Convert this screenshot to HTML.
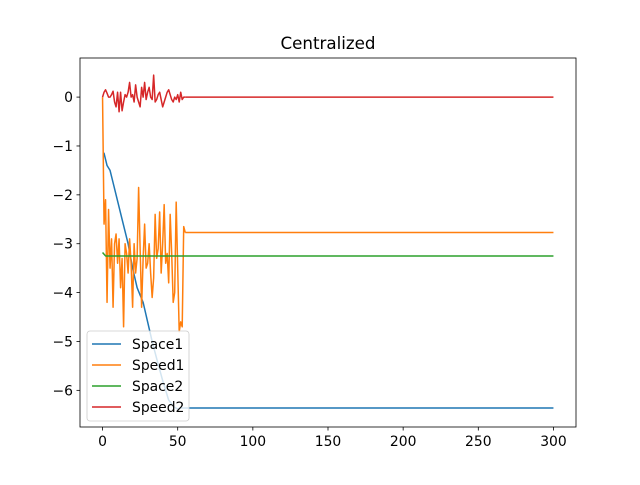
<!DOCTYPE html>
<html><head><meta charset="utf-8"><style>
body{margin:0;background:#fff;}
svg{font-family:"DejaVu Sans","Liberation Sans",sans-serif;}
</style></head><body>
<svg id="chart" width="640" height="480" viewBox="0 0 640 480"></svg>
<script>
const xTicks=[0,50,100,150,200,250,300];
const yTicks=[0,-1,-2,-3,-4,-5,-6];
const space1X=[0,1,3,5,7,9,13,17,20,23,25,27,30,33,36,40,44,48,50,52,300];
const space1Y=[-1.15,-1.15,-1.4,-1.5,-1.75,-2.0,-2.5,-3.0,-3.5,-3.9,-4.05,-4.2,-4.6,-5.0,-5.35,-5.8,-6.2,-6.35,-6.38,-6.36,-6.36];
const space2X=[0,2,300];
const space2Y=[-3.18,-3.25,-3.25];
const speed1Y=[0,-2.6,-2.1,-4.2,-2.3,-3.5,-2.9,-4.3,-3.0,-2.8,-3.4,-2.9,-3.9,-3.3,-4.7,-3.0,-3.2,-3.6,-2.9,-3.4,-4.3,-3.0,-3.6,-3.3,-1.85,-3.1,-4.3,-3.3,-2.6,-3.5,-3.4,-3.0,-3.6,-4.1,-3.7,-2.4,-3.3,-3.1,-2.35,-3.6,-3.0,-2.2,-3.4,-3.2,-3.8,-2.4,-3.2,-4.2,-4.0,-2.15,-3.5,-4.8,-4.6,-4.7,-2.65,-2.77];
const speed1TailX=[55,300];
const speed1TailY=[-2.77,-2.77];
const speed2Y=[0,0.1,0.15,0.08,0.0,0.0,0.05,0.12,-0.1,-0.2,0.1,-0.3,0.1,-0.28,-0.1,0.05,0.0,0.1,0.3,0.0,0.05,-0.1,0.25,0.0,-0.1,-0.2,0.2,0.0,0.3,-0.05,0.1,0.2,0.0,-0.05,0.45,-0.1,-0.05,0.05,0.1,-0.05,-0.2,-0.1,0.0,0.1,0.15,0.05,-0.05,-0.1,0.0,-0.05,0.05,-0.1,0.1,-0.05,0.0,0.0];
const speed2TailX=[55,300];
const speed2TailY=[0,0];

const L=80,R=576,T=58,B=427;
const xMin=-15,xMax=315,yMin=-6.75,yMax=0.8;
const sx=v=>L+(v-xMin)/(xMax-xMin)*(R-L);
const sy=v=>T+(yMax-v)/(yMax-yMin)*(B-T);
const svg=document.getElementById('chart');
const NS='http://www.w3.org/2000/svg';
function mk(tag,attrs,parent){const e=document.createElementNS(NS,tag);for(const k in attrs)e.setAttribute(k,attrs[k]);(parent||svg).appendChild(e);return e;}

function line(xs,ys,color,name){
  const pts=xs.map((x,i)=>sx(x).toFixed(2)+','+sy(ys[i]).toFixed(2)).join(' ');
  const p=mk('polyline',{points:pts,fill:'none',stroke:color,'stroke-width':1.5,'stroke-linejoin':'round'});
  
  
}
const idx=speed1Y.map((_,i)=>i);
line(space1X,space1Y,'#1f77b4','space1-line');
line(idx,speed1Y,'#ff7f0e','speed1-line');
line(speed1TailX,speed1TailY,'#ff7f0e','speed1-line-tail');
line(space2X,space2Y,'#2ca02c','space2-line');
line(idx.slice(0,speed2Y.length),speed2Y,'#d62728','speed2-line');
line(speed2TailX,speed2TailY,'#d62728','speed2-line-tail');

const frame=mk('rect',{x:L,y:T,width:R-L,height:B-T,fill:'none',stroke:'#000','stroke-width':0.8});



xTicks.forEach(v=>{
  const x=sx(v);
  mk('line',{x1:x,x2:x,y1:B,y2:B+3.5,stroke:'#000','stroke-width':0.8});
  const t=mk('text',{x:x,y:B+19,'text-anchor':'middle','font-size':13.9,fill:'#000'});
  t.textContent=v;
  
  
});
yTicks.forEach(v=>{
  const y=sy(v);
  mk('line',{x1:L-3.5,x2:L,y1:y,y2:y,stroke:'#000','stroke-width':0.8});
  const t=mk('text',{x:L-7,y:y+5,'text-anchor':'end','font-size':13.9,fill:'#000'});
  t.textContent=v<0?'\u2212'+Math.abs(v):v;
  
  
});
const title=mk('text',{x:(L+R)/2,y:49,'text-anchor':'middle','font-size':16.7,fill:'#000'});
title.textContent='Centralized';



const lg=mk('g',{});


mk('rect',{x:87,y:331,width:102,height:90,rx:3,fill:'#fff','fill-opacity':0.8,stroke:'#ccc','stroke-width':0.8},lg);
const names=['Space1','Speed1','Space2','Speed2'];
const colors=['#1f77b4','#ff7f0e','#2ca02c','#d62728'];
names.forEach((n,i)=>{
  const y=344+i*21;
  mk('line',{x1:92,x2:121,y1:y,y2:y,stroke:colors[i],'stroke-width':1.5},lg);
  const t=mk('text',{x:132,y:y+5,'font-size':13.9,fill:'#000'},lg);
  t.textContent=n;
  
  
});
</script>
</body></html>
